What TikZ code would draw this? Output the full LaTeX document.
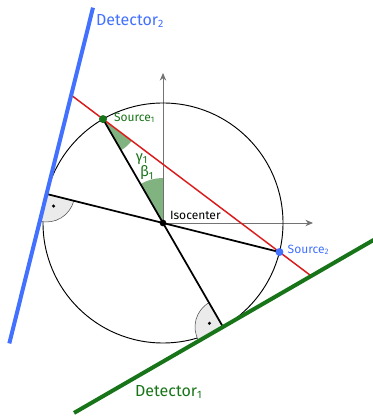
\documentclass[tikz,border=0pt]{standalone}
\usepackage{fontspec}
\setmainfont{Fira Sans}
\usetikzlibrary{arrows.meta,calc,intersections}
\definecolor{detblue}{RGB}{66,112,255}
\definecolor{detgreen}{RGB}{24,116,24}
\definecolor{rayred}{RGB}{218,28,28}
\tikzset{
  det/.style={line width=3pt},
  lnk/.style={line width=1.3pt},
  ax/.style={-{Stealth[length=2mm,width=1.7mm]},black!55,line width=0.6pt},
  ang/.style={fill=detgreen,fill opacity=0.55},
  rt/.style={draw=black!70,fill=black!8,line width=0.4pt},
  lbl/.style={font=\fontsize{12}{14}\selectfont,inner sep=1pt},
  slbl/.style={font=\fontsize{9}{11}\selectfont,inner sep=1pt},
  glbl/.style={font=\fontsize{11}{13}\selectfont,inner sep=0pt,text=detgreen},
  dot/.style={circle,inner sep=0pt,minimum size=5pt}
}
\begin{document}
\begin{tikzpicture}[x=0.75pt,y=0.75pt]
\useasboundingbox (-163,-193) rectangle (209,223);
\coordinate (iso) at (0,0);
\coordinate (s1) at (120:120);
\coordinate (s2) at (-14:120);
\coordinate (t1) at (300:120);
\coordinate (t2) at (166:120);
% axes and gantry circle
\draw[ax] (iso) -- (0,150);
\draw[ax] (iso) -- (150,0);
\draw[line width=0.7pt] (iso) circle (120);
% angles beta_1 and gamma_1
\fill[ang] (iso) -- (90:45) arc (90:120:45) -- cycle;
\fill[ang] (s1) -- ++(-60:36) arc (-60:-37:36) -- cycle;
% right angles at the detectors
\draw[rt] (t2) -- ++(-14:28) arc (-14:-104:28) -- cycle;
\fill (t2) ++(-60:14) circle (1.7);
\draw[rt] (t1) -- ++(120:28) arc (120:210:28) -- cycle;
\fill (t1) ++(165:14) circle (1.7);
% central rays
\draw[lnk] (s1) -- (t1);
\draw[lnk] (t2) -- (s2);
% detectors
\path[name path=d2] ($(t2)+(256:154)$) -- ($(t2)+(76:192)$);
\path[name path=d1] ($(t1)+(210:172)$) -- ($(t1)+(30:174)$);
\path[name path=rl] ($(s1)!-0.5!(s2)$) -- ($(s2)!-0.5!(s1)$);
\path[name intersections={of=rl and d2,by=r2}];
\path[name intersections={of=rl and d1,by=r1}];
\draw[rayred,line width=1.1pt] (r2) -- (r1);
\draw[det,detblue] ($(t2)+(256:154)$) -- ($(t2)+(76:192)$);
\draw[det,detgreen] ($(t1)+(210:172)$) -- ($(t1)+(30:174)$);
% sources and isocenter
\node[dot,fill=detgreen,minimum size=6pt] (src1) at (s1) {};
\node[dot,fill=detblue,minimum size=6pt] (src2) at (s2) {};
\node[dot,fill=black] (isoc) at (iso) {};
% labels
\node[slbl,text=detgreen,anchor=west] (src1lbl) at ($(s1)+(9.5,1)$) {Source\textsubscript{1}};
\node[slbl,text=detblue,anchor=west] (src2lbl) at ($(s2)+(6.7,2)$) {Source\textsubscript{2}};
\node[slbl,anchor=west] (isolbl) at (5.5,8) {Isocenter};
\node[glbl] (gam) at (-21,64) {γ\textsubscript{1}};
\node[glbl] (bet) at (-16,50) {β\textsubscript{1}};
\node[lbl,text=detblue,anchor=west] (det2lbl) at (-68.5,202) {Detector\textsubscript{2}};
\node[lbl,text=detgreen,anchor=west] (det1lbl) at (-29.5,-169) {Detector\textsubscript{1}};
\end{tikzpicture}
\end{document}
